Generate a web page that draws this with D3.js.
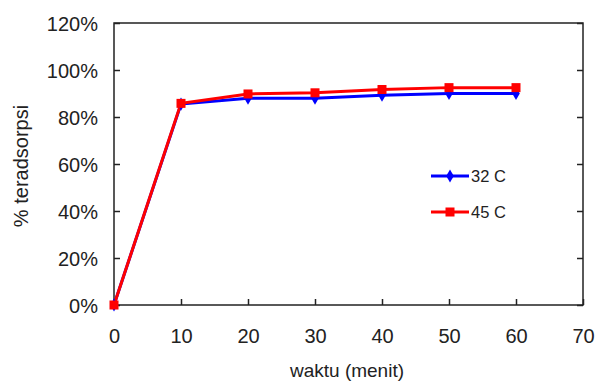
<!DOCTYPE html>
<html><head><meta charset="utf-8">
<script src="https://cdn.jsdelivr.net/npm/d3@7"></script>
<style>body{margin:0;background:#fff}svg{display:block}text{font-family:"Liberation Sans",Arial,sans-serif;fill:#222}</style>
</head><body><svg id="c" width="595" height="383"></svg>
<script>
const times = [0, 10, 20, 30, 40, 50, 60];
const series32 = [0.00, 0.855, 0.88, 0.88, 0.893, 0.90, 0.90];
const series45 = [0.00, 0.858, 0.898, 0.903, 0.917, 0.925, 0.925];
const seriesNames = ["32 C", "45 C"];
const xTicks = [0, 10, 20, 30, 40, 50, 60, 70];
const yTicks = [0, 0.2, 0.4, 0.6, 0.8, 1.0, 1.2];

const svg = d3.select("#c");
const L = 114, R = 583, T = 23, B = 305;
const x = d3.scaleLinear().domain([0, 70]).range([L, R]);
const y = d3.scaleLinear().domain([0, 1.2]).range([B, T]);

svg.append("rect").attr("x", L).attr("y", T).attr("width", R - L).attr("height", B - T)
  .attr("fill", "none").attr("stroke", "#222").attr("stroke-width", 1.5);

const fmt = d => Math.round(d * 100) + "%";
const yAx = svg.append("g").attr("transform", `translate(${L},0)`)
  .call(d3.axisLeft(y).tickValues(yTicks).tickFormat(fmt).tickSize(-6).tickPadding(16));
const yAxR = svg.append("g").attr("transform", `translate(${R},0)`)
  .call(d3.axisRight(y).tickValues(yTicks).tickFormat("").tickSize(-6));
const xAx = svg.append("g").attr("transform", `translate(0,${B})`)
  .call(d3.axisBottom(x).tickValues(xTicks).tickFormat(d3.format("d")).tickSize(-6).tickPadding(24));
[yAx, yAxR, xAx].forEach(g => {
  g.select(".domain").remove();
  g.selectAll(".tick line").attr("stroke", "#222").attr("stroke-width", 1.5);
  g.selectAll(".tick text").attr("font-size", 20).attr("fill", "#222")
    .style("font-family", '"Liberation Sans",Arial,sans-serif');
});
yAx.selectAll(".tick text").attr("dy", "0.36em");

svg.append("text").attr("x", 347).attr("y", 377).attr("text-anchor", "middle")
  .attr("font-size", 19).text("waktu (menit)");
svg.append("text").attr("transform", "translate(28,166) rotate(-90)").attr("text-anchor", "middle")
  .attr("font-size", 20).text("% teradsorpsi");

const line = d3.line().x((d, i) => x(times[i])).y(d => y(d));
const colors = ["#0000ff", "#ff0000"];
const data = [series32, series45];
data.forEach((s, k) => {
  svg.append("path").datum(s).attr("d", line).attr("fill", "none")
    .attr("stroke", colors[k]).attr("stroke-width", 3);
});
// markers
svg.selectAll(".m32").data(series32).enter().append("path")
  .attr("transform", (d, i) => `translate(${x(times[i])},${y(d)})`)
  .attr("d", d3.symbol(d3.symbolDiamond, 50)()).attr("fill", colors[0]);
svg.selectAll(".m45").data(series45).enter().append("rect")
  .attr("x", (d, i) => x(times[i]) - 4.5).attr("y", d => y(d) - 4.5)
  .attr("width", 9).attr("height", 9).attr("fill", colors[1]);

// legend
const leg = [{y: 176}, {y: 212}];
leg.forEach((l, k) => {
  svg.append("line").attr("x1", 431).attr("x2", 469).attr("y1", l.y).attr("y2", l.y)
    .attr("stroke", colors[k]).attr("stroke-width", 3);
  if (k === 0) svg.append("path").attr("transform", `translate(450,${l.y})`)
    .attr("d", d3.symbol(d3.symbolDiamond, 50)()).attr("fill", colors[0]);
  else svg.append("rect").attr("x", 445.5).attr("y", l.y - 4.5).attr("width", 9).attr("height", 9).attr("fill", colors[1]);
  svg.append("text").attr("x", 471).attr("y", l.y + 6).attr("font-size", 16.5)
    .text(seriesNames[k]);
});
</script></body></html>
